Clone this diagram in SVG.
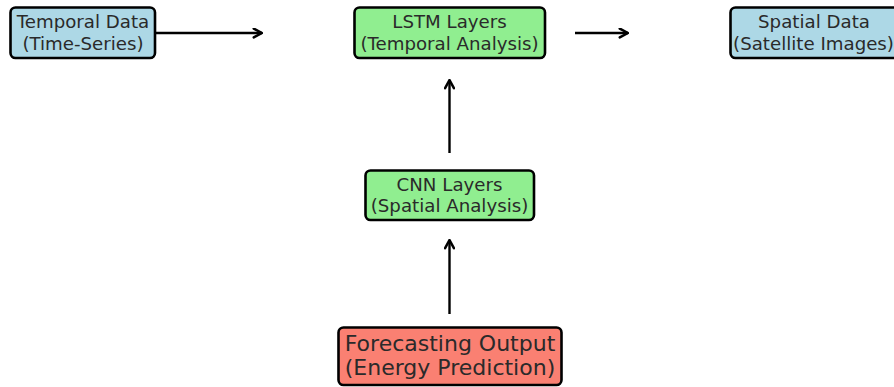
<svg xmlns="http://www.w3.org/2000/svg" width="894" height="387" viewBox="0 0 894 387">
  <defs>
    <marker id="arrow" viewBox="0 0 10 10" refX="9" refY="5" markerWidth="11" markerHeight="11" markerUnits="userSpaceOnUse" orient="auto">
      <path d="M1.5,1 L9,5 L1.5,9" fill="none" stroke="#000" stroke-width="2.3" stroke-linecap="round" stroke-linejoin="round"/>
    </marker>
  </defs>
  <style>
    .box { stroke: #000; stroke-width: 2.6; }
    .blue { fill: #add8e6; }
    .green { fill: #90ee90; }
    .red { fill: #fa8072; }
    .lbl { font-family: "DejaVu Sans", sans-serif; font-size: 18.2px; fill: #2a2a2a; text-anchor: middle; }
    .big { font-size: 22px; }
    .edge { stroke: #000; stroke-width: 2.4; fill: none; marker-end: url(#arrow); }
  </style>
  <rect width="894" height="387" fill="#fff"/>

  <!-- arrows between the stages -->
  <g id="connectors">
    <line class="edge" x1="147" y1="33" x2="262" y2="33"/>
    <line class="edge" x1="575" y1="33" x2="628" y2="33"/>
    <line class="edge" x1="449.5" y1="153" x2="449.5" y2="80"/>
    <line class="edge" x1="449.5" y1="314" x2="449.5" y2="240"/>
  </g>

  <g id="temporal-data">
    <rect class="box blue" x="10.5" y="7.5" width="144.5" height="50.5" rx="5"/>
    <text class="lbl" x="83" y="28">Temporal Data</text>
    <text class="lbl" x="83" y="50">(Time-Series)</text>
  </g>

  <g id="lstm-layers">
    <rect class="box green" x="354.5" y="7.5" width="190.5" height="50.5" rx="5"/>
    <text class="lbl" x="449.5" y="28">LSTM Layers</text>
    <text class="lbl" x="449.5" y="50">(Temporal Analysis)</text>
  </g>

  <g id="spatial-data">
    <rect class="box blue" x="730.5" y="7.5" width="168" height="50.5" rx="5"/>
    <text class="lbl" x="814" y="28">Spatial Data</text>
    <text class="lbl" x="813.5" y="50">(Satellite Images)</text>
  </g>

  <g id="cnn-layers">
    <rect class="box green" x="365.5" y="170.5" width="168.5" height="49.5" rx="5"/>
    <text class="lbl" x="449.5" y="191">CNN Layers</text>
    <text class="lbl" x="449.5" y="212">(Spatial Analysis)</text>
  </g>

  <g id="forecasting-output">
    <rect class="box red" x="338.5" y="327.5" width="223" height="57.5" rx="5"/>
    <text class="lbl big" x="450" y="351">Forecasting Output</text>
    <text class="lbl big" x="450" y="375">(Energy Prediction)</text>
  </g>
</svg>
